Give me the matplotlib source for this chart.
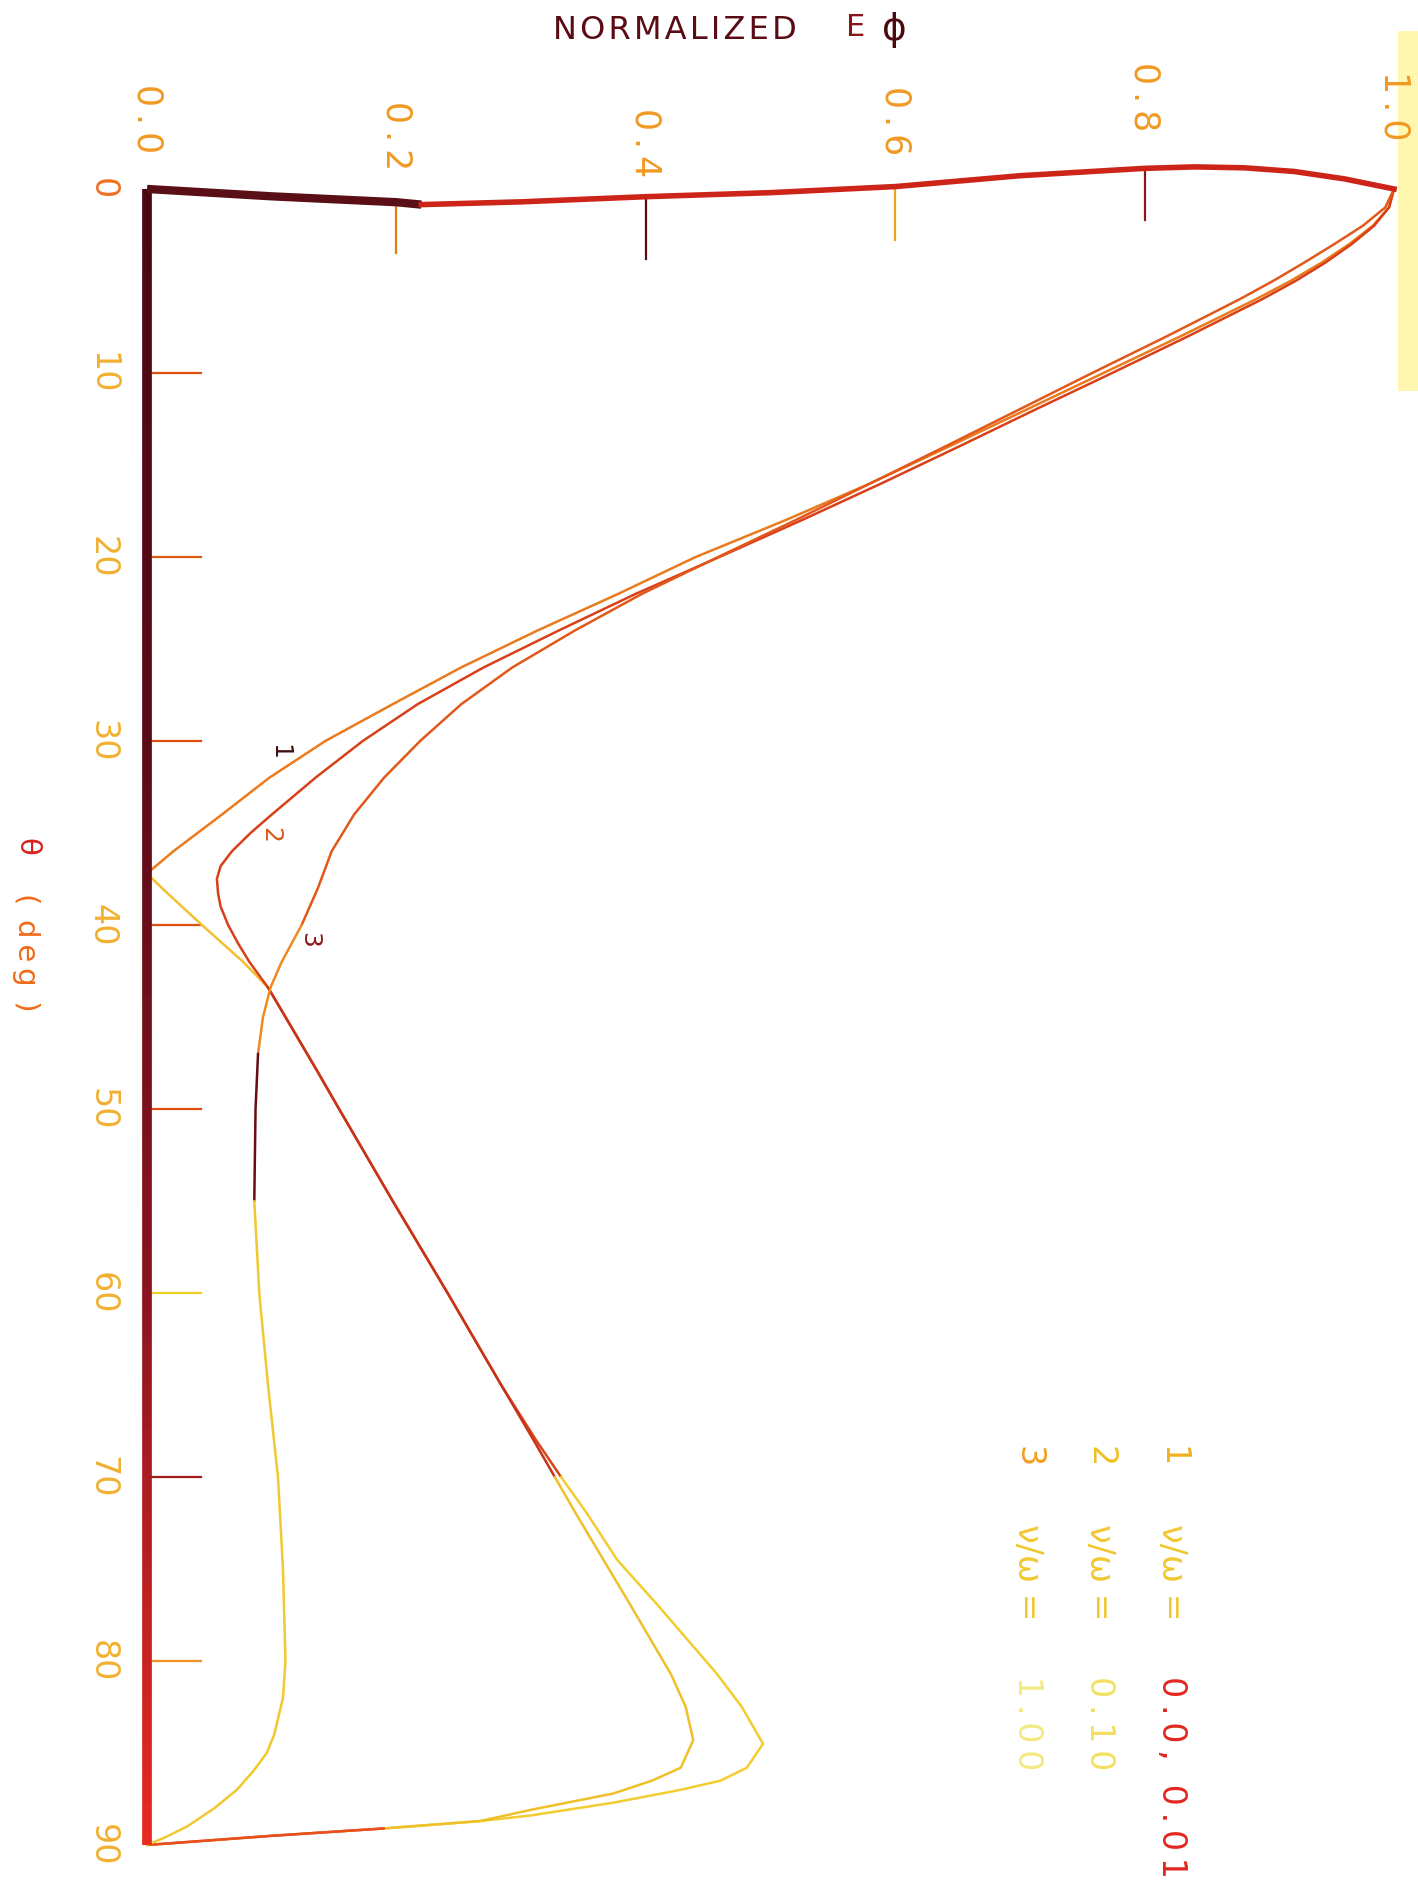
import numpy as np
import matplotlib
matplotlib.use("Agg")
import matplotlib.pyplot as plt
from matplotlib.collections import LineCollection
from matplotlib.colors import LinearSegmentedColormap

# curve 1 : nu/omega = 0.0, 0.01
theta1 = [0, 1, 2, 3, 4, 5, 6, 8, 10, 12, 14, 16, 18, 20, 22, 24, 26, 28, 30, 32, 34, 36,
          37.2, 38, 40, 42, 43.4, 45, 48, 50, 55, 60, 65, 68, 70,
          72, 74.5, 77, 80.7, 82.5, 84.5, 85.8, 86.5, 87, 87.7, 88.4, 88.7, 89.1, 89.5, 90]
e1 = [1.0, 0.996, 0.983, 0.964, 0.942, 0.917, 0.889, 0.829, 0.767, 0.705, 0.643, 0.58, 0.512,
      0.44, 0.378, 0.313, 0.252, 0.197, 0.143, 0.098, 0.06, 0.021,
      0.0, 0.012, 0.044, 0.077, 0.097, 0.111, 0.137, 0.154, 0.197, 0.241, 0.284, 0.312, 0.332,
      0.353, 0.377, 0.41, 0.457, 0.477, 0.494, 0.481, 0.46, 0.428, 0.374, 0.307, 0.267, 0.19, 0.1, 0.0]

# curve 2 : nu/omega = 0.10
theta2 = [0, 1, 2, 3, 4, 5, 6, 8, 10, 12, 14, 16, 18, 20, 22, 24, 26, 28, 30, 32, 34, 35, 36,
          36.8, 37.5, 38.3, 39, 40, 41, 42, 43.4, 45, 48, 50, 55, 60, 65, 68, 70,
          72, 74.5, 77, 80.7, 82.5, 84.3, 85.8, 86.5, 87.2, 88.1, 88.7, 89.1, 89.5, 90]
e2 = [1.0, 0.996, 0.984, 0.966, 0.945, 0.921, 0.894, 0.835, 0.774, 0.712, 0.651, 0.589, 0.525,
      0.459, 0.392, 0.33, 0.27, 0.217, 0.173, 0.135, 0.1, 0.083, 0.068,
      0.059, 0.056, 0.057, 0.059, 0.065, 0.073, 0.082, 0.097, 0.111, 0.137, 0.154, 0.197, 0.241, 0.284, 0.31, 0.327,
      0.344, 0.366, 0.388, 0.42, 0.432, 0.438, 0.428, 0.405, 0.374, 0.307, 0.267, 0.19, 0.1, 0.0]

# curve 3 : nu/omega = 1.00
theta3 = [0, 1, 2, 3, 4, 5, 6, 8, 10, 12, 14, 16, 18, 20, 22, 24, 26, 28, 30, 32, 34, 36,
          38, 40, 42, 43.4, 45, 47, 50, 55, 60, 65, 70, 75, 80, 82, 84, 85, 86, 87, 88, 89, 89.6, 90]
e3 = [1.0, 0.993, 0.975, 0.952, 0.928, 0.903, 0.876, 0.818, 0.758, 0.699, 0.64, 0.58, 0.52,
      0.458, 0.397, 0.343, 0.293, 0.252, 0.219, 0.19, 0.166, 0.148,
      0.137, 0.124, 0.108, 0.099, 0.093, 0.089, 0.087, 0.086, 0.09, 0.097, 0.105, 0.109, 0.111,
      0.109, 0.102, 0.096, 0.085, 0.072, 0.054, 0.032, 0.014, 0.0]

# the (hand drawn looking) top border at theta = 0
top_e = [0.0, 0.1, 0.2, 0.22, 0.3, 0.4, 0.5, 0.6, 0.7, 0.8, 0.84, 0.88, 0.92, 0.96, 1.0]
top_theta = [0.0, 0.4, 0.72, 0.85, 0.7, 0.42, 0.2, -0.13, -0.72, -1.12, -1.2, -1.15, -0.95, -0.55, 0.0]

e_ticks = [0.2, 0.4, 0.6, 0.8]
e_tick_from = [0.72, 0.4, -0.1, -1.1]
e_tick_to = [3.5, 3.8, 2.8, 1.7]
e_labels = ["0.0", "0.2", "0.4", "0.6", "0.8", "1.0"]
e_label_pos = [0.0, 0.2, 0.4, 0.6, 0.8, 1.0]
theta_ticks = [10, 20, 30, 40, 50, 60, 70, 80]
theta_labels = ["0", "10", "20", "30", "40", "50", "60", "70", "80", "90"]
theta_label_pos = [0, 10, 20, 30, 40, 50, 60, 70, 80, 90]

legend_num = ["1", "2", "3"]
legend_val = ["0.0, 0.01", "0.10", "1.00"]

# colour pieces along each curve (theta where the colour starts)
c1_cols = [(0, "#ea7a1c"), (30, "#ee7a1c"), (37.2, "#f2c030"), (43.4, "#d8461a"), (70, "#f2cc30"), (89.1, "#e8501a")]
c2_cols = [(0, "#d8401a"), (43.4, "#c8341a"), (70, "#f0c02a"), (89.1, "#e8501a")]
c3_cols = [(0, "#e2581a"), (40, "#f08a20"), (47, "#6a0c14"), (55, "#f2c830")]

THIN = "\u2009"


def spaced(s, gap=THIN):
    # plotter lettering is wider spaced than a normal font
    return gap.join(s)


def draw_curve(ax, th, e, cols, lw=1.8):
    th = np.asarray(th, float)
    e = np.asarray(e, float)
    for k, (t0, c) in enumerate(cols):
        t1 = cols[k + 1][0] if k + 1 < len(cols) else 1e9
        m = (th >= t0) & (th <= t1)
        ax.plot(e[m], th[m], color=c, lw=lw, solid_capstyle="round", solid_joinstyle="round",
                clip_on=False, zorder=3)


fig = plt.figure(figsize=(14.18, 18.84), dpi=100)
ax = fig.add_axes([0.1037, 0.0207, 0.8794, 0.879])
ax.set_xlim(0, 1)
ax.set_ylim(90, 0)
ax.axis("off")

# faint yellow scan band at the right edge
ax.fill_betweenx([-8.6, 11.0], 1.003, 1.02, color="#fff7b0", lw=0, clip_on=False, zorder=0)

# left border with dark -> red gradient
cmap = LinearSegmentedColormap.from_list("ax", ["#4a0812", "#5a0a16", "#8a1420", "#e62a22"])
ys = np.linspace(0, 90, 120)
segs = [[(0, ys[i]), (0, ys[i + 1])] for i in range(len(ys) - 1)]
lc = LineCollection(segs, colors=cmap(np.linspace(0, 1, len(segs))), linewidths=7, zorder=4)
lc.set_clip_on(False)
ax.add_collection(lc)

# top border
ax.plot(top_e[:4], top_theta[:4], color="#5a0e16", lw=6, clip_on=False, zorder=4, solid_capstyle="butt")
ax.plot(top_e[3:], top_theta[3:], color="#cc2418", lw=4, clip_on=False, zorder=4,
        solid_joinstyle="round")

# ticks
tick_cols_e = ["#e08010", "#5a0a10", "#f0a020", "#8a1818"]
for x, a, b, c in zip(e_ticks, e_tick_from, e_tick_to, tick_cols_e):
    ax.plot([x, x], [a, b], color=c, lw=1.6, clip_on=False, zorder=3)
tick_cols_t = ["#e05010", "#e05a10", "#e04a10", "#e05010", "#e04a10", "#f0d020", "#a01a1a", "#f09020"]
for t, c in zip(theta_ticks, tick_cols_t):
    ax.plot([0, 0.043], [t, t], color=c, lw=1.6, clip_on=False, zorder=3)

draw_curve(ax, theta1, e1, c1_cols)
draw_curve(ax, theta2, e2, c2_cols)
draw_curve(ax, theta3, e3, c3_cols)

# tick labels (rotated like the plotter output)
lab_theta = [-3.8, -2.9, -2.5, -3.7, -5.0, -4.5]
for s, x, t in zip(e_labels, e_label_pos, lab_theta):
    ax.text(x, t, spaced(s), rotation=-90, ha="center", va="center", fontsize=25,
            color="#f09a24", clip_on=False)
for s, t in zip(theta_labels, theta_label_pos):
    c = "#f07020" if t == 0 else "#f2b030"
    ax.text(-0.036, t, s, rotation=-90, ha="center", va="center", fontsize=24,
            color=c, clip_on=False)

# curve numbers
ax.text(0.106, 30.6, "1", rotation=-90, ha="center", va="center", fontsize=18, color="#401010")
ax.text(0.099, 35.1, "2", rotation=-90, ha="center", va="center", fontsize=18, color="#d85818")
ax.text(0.130, 40.8, "3", rotation=-90, ha="center", va="center", fontsize=18, color="#8a1a14")

# axis titles
fig.text(0.390, 0.984, spaced("NORMALIZED", "\u200a"), ha="left", va="center", fontsize=23, color="#5a0c14")
fig.text(0.6035, 0.9855, "E", ha="center", va="center", fontsize=22, color="#8a1418")
fig.text(0.631, 0.984, "ϕ", ha="center", va="center", fontsize=27, color="#4a0a10")
fig.text(0.0185, 0.5505, "θ", rotation=-90, ha="center", va="center", fontsize=21, color="#d8201a")
fig.text(0.0185, 0.526, "(\u2002d\u2009e\u2009g\u2002)", rotation=-90, ha="center", va="top",
         fontsize=21, color="#f06a18")

# key
num_cols = ["#f0b020", "#f0c020", "#f0a020"]
val_cols = ["#e02820", "#f2e060", "#f2ea80"]
key_x = [0.8264, 0.7756, 0.7248]
for n, v, x, cn, cv in zip(legend_num, legend_val, key_x, num_cols, val_cols):
    fig.text(x, 0.2325, n, rotation=-90, ha="center", va="top", fontsize=24, color=cn)
    fig.text(x, 0.191, "ν/ω =", rotation=-90, ha="center", va="top", fontsize=24, color="#f2c830")
    fig.text(x, 0.1102, spaced(v), rotation=-90, ha="center", va="top", fontsize=24, color=cv)

fig.savefig("out.png", dpi=100, facecolor="white")
